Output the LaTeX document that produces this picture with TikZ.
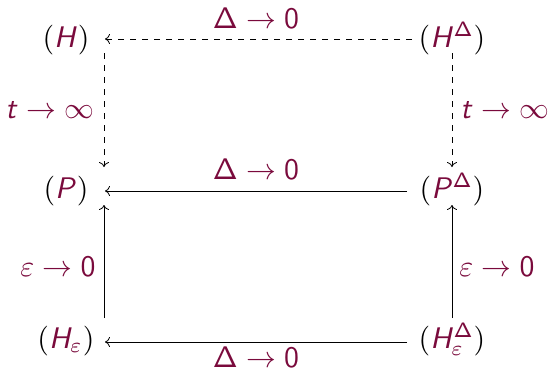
\documentclass[tikz,border=0pt]{standalone}
\usetikzlibrary{arrows.meta}
\definecolor{lab}{HTML}{7A0A3C}
\DeclareMathAlphabet{\mathsfit}{OT1}{cmss}{m}{sl}
\newcommand{\lb}[1]{\textcolor{lab}{#1}}
\newcommand{\bigtxt}[1]{\scalebox{2.98}{$#1$}}
\begin{document}
\begin{tikzpicture}[x=1pt,y=-1pt,
  txt/.style={inner sep=0pt,anchor=base},
  ar/.style={line width=0.8pt,-{To[length=5pt,width=10pt]}},
  dar/.style={ar,dash pattern=on 6pt off 6pt}]
\useasboundingbox (0,0) rectangle (548,373);
% nodes
\node[txt] (H) at (66,47) {\bigtxt{(\lb{\mathsfit{H}})}};
\node[txt] (HD) at (452,47) {\bigtxt{(\lb{\mathsfit{H}^{\mathsf{\Delta}}})}};
\node[txt] (P) at (66,198) {\bigtxt{(\lb{\mathsfit{P}})}};
\node[txt] (PD) at (452,198) {\bigtxt{(\lb{\mathsfit{P}^{\mathsf{\Delta}}})}};
\node[txt] (He) at (66,348) {\bigtxt{(\lb{\mathsfit{H}_{\varepsilon}})}};
\node[txt] (HeD) at (452,348) {\bigtxt{(\lb{\mathsfit{H}_{\varepsilon}^{\mathsf{\Delta}}})}};
% labels
\node[txt,text=lab] (l1) at (256,28) {\bigtxt{\mathsf{\Delta}\to\mathsf{0}}};
\node[txt,text=lab] (l2) at (256,179) {\bigtxt{\mathsf{\Delta}\to\mathsf{0}}};
\node[txt,text=lab] (l3) at (256,367) {\bigtxt{\mathsf{\Delta}\to\mathsf{0}}};
\node[txt,text=lab] (l4) at (50,118) {\bigtxt{\mathsfit{t}\to\infty}};
\node[txt,text=lab] (l5) at (505,118) {\bigtxt{\mathsfit{t}\to\infty}};
\node[txt,text=lab] (l6) at (58,276) {\bigtxt{\varepsilon\to\mathsf{0}}};
\node[txt,text=lab] (l7) at (497,276) {\bigtxt{\varepsilon\to\mathsf{0}}};
% connector ends
\coordinate (a1) at (412,39); \coordinate (a2) at (105,39);
\coordinate (b1) at (104,53); \coordinate (b2) at (104,167);
\coordinate (c1) at (452,53); \coordinate (c2) at (452,167);
\coordinate (d1) at (407,191); \coordinate (d2) at (105,191);
\coordinate (e1) at (104,318); \coordinate (e2) at (104,205);
\coordinate (f1) at (452,318); \coordinate (f2) at (452,205);
\coordinate (g1) at (407,342); \coordinate (g2) at (105,342);
\draw[dar] (a1) -- (a2);
\draw[dar] (b1) -- (b2);
\draw[dar] (c1) -- (c2);
\draw[ar] (d1) -- (d2);
\draw[ar] (e1) -- (e2);
\draw[ar] (f1) -- (f2);
\draw[ar] (g1) -- (g2);
\end{tikzpicture}
\end{document}
